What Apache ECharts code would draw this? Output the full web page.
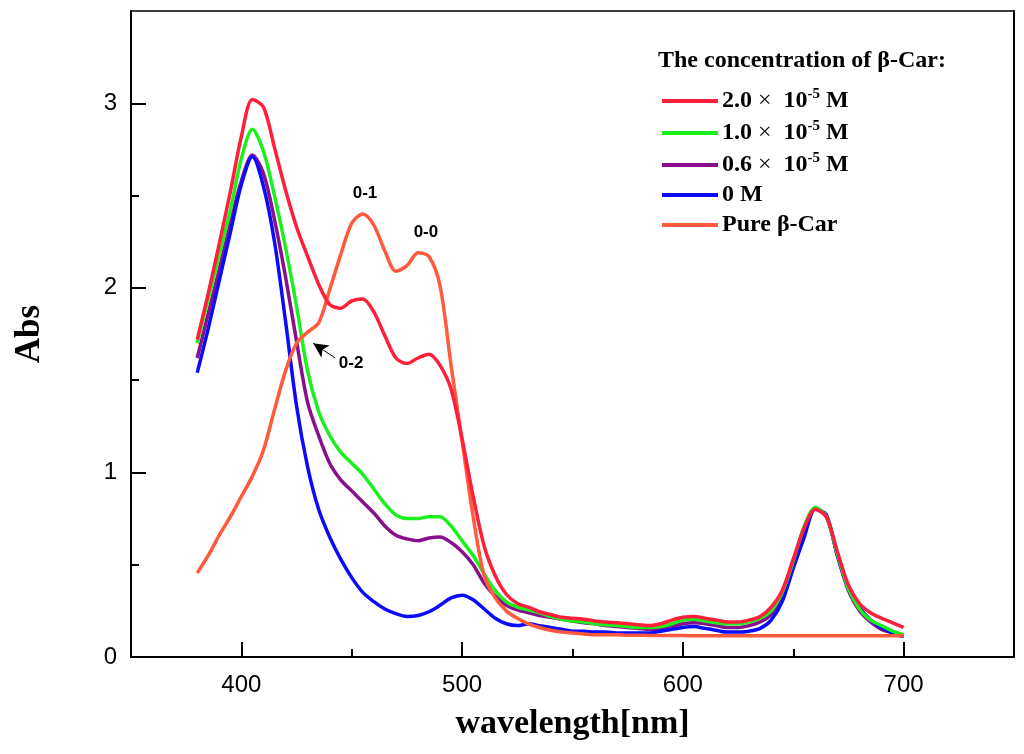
<!DOCTYPE html>
<html>
<head>
<meta charset="utf-8">
<script src="https://cdn.jsdelivr.net/npm/echarts@6/dist/echarts.min.js"></script>
<style>
  html, body { margin: 0; padding: 0; background: #fff; }
  #chart { width: 1024px; height: 754px; }
</style>
</head>
<body>
<div id="chart"></div>
<script>
// wavelength grid (nm)
const wavelength = [380, 385, 390, 395, 400, 405, 410, 415, 420, 425, 430, 435, 440, 445, 450, 455,
  460, 465, 470, 475, 480, 485, 490, 495, 500, 505, 510, 515, 520, 525, 530, 535, 540, 545, 550,
  555, 560, 565, 570, 575, 580, 585, 590, 595, 600, 605, 610, 615, 620, 625, 630, 635, 640, 645,
  650, 655, 660, 665, 670, 675, 680, 685, 690, 695, 700];

// 2.0 x 10^-5 M
const abs20 = [1.72, 1.97, 2.24, 2.52, 2.82, 3.02, 2.98, 2.76, 2.53, 2.33, 2.17, 2.02, 1.91, 1.89,
  1.93, 1.94, 1.87, 1.74, 1.62, 1.59, 1.62, 1.64, 1.58, 1.45, 1.18, 0.87, 0.60, 0.44, 0.34, 0.29,
  0.27, 0.245, 0.23, 0.215, 0.21, 0.205, 0.195, 0.19, 0.185, 0.18, 0.175, 0.17, 0.18, 0.20, 0.215,
  0.22, 0.21, 0.20, 0.19, 0.19, 0.20, 0.22, 0.27, 0.36, 0.53, 0.70, 0.80, 0.76, 0.57, 0.39, 0.29,
  0.24, 0.21, 0.185, 0.16];

// 1.0 x 10^-5 M
const abs10 = [1.70, 1.94, 2.18, 2.42, 2.70, 2.86, 2.74, 2.50, 2.22, 1.90, 1.55, 1.33, 1.20, 1.11,
  1.05, 0.99, 0.91, 0.83, 0.77, 0.75, 0.75, 0.76, 0.76, 0.71, 0.63, 0.55, 0.45, 0.36, 0.30, 0.27,
  0.255, 0.24, 0.22, 0.205, 0.195, 0.19, 0.18, 0.175, 0.17, 0.165, 0.16, 0.16, 0.165, 0.18, 0.20,
  0.205, 0.195, 0.185, 0.18, 0.18, 0.19, 0.21, 0.25, 0.35, 0.52, 0.71, 0.81, 0.76, 0.56, 0.37,
  0.26, 0.20, 0.17, 0.14, 0.12];

// 0.6 x 10^-5 M
const abs06 = [1.62, 1.86, 2.10, 2.35, 2.58, 2.72, 2.62, 2.37, 2.06, 1.71, 1.38, 1.20, 1.05, 0.96,
  0.90, 0.84, 0.78, 0.71, 0.66, 0.64, 0.63, 0.645, 0.65, 0.62, 0.57, 0.50, 0.40, 0.33, 0.28, 0.255,
  0.24, 0.225, 0.215, 0.205, 0.195, 0.185, 0.18, 0.17, 0.165, 0.16, 0.155, 0.15, 0.155, 0.165, 0.18,
  0.185, 0.18, 0.17, 0.16, 0.16, 0.17, 0.19, 0.23, 0.33, 0.50, 0.70, 0.80, 0.76, 0.55, 0.36, 0.25,
  0.19, 0.15, 0.13, 0.11];

// 0 M
const abs00 = [1.54, 1.78, 2.04, 2.30, 2.56, 2.71, 2.55, 2.25, 1.82, 1.36, 1.03, 0.80, 0.65, 0.53,
  0.43, 0.35, 0.30, 0.26, 0.235, 0.22, 0.225, 0.245, 0.28, 0.32, 0.335, 0.31, 0.26, 0.21, 0.18,
  0.17, 0.18, 0.17, 0.16, 0.15, 0.14, 0.14, 0.135, 0.135, 0.13, 0.13, 0.13, 0.13, 0.14, 0.15, 0.16,
  0.165, 0.155, 0.145, 0.135, 0.135, 0.14, 0.155, 0.20, 0.30, 0.48, 0.65, 0.80, 0.77, 0.55, 0.37,
  0.27, 0.20, 0.16, 0.13, 0.11];

// pure beta-carotene
const absPure = [0.455, 0.55, 0.66, 0.76, 0.87, 0.98, 1.12, 1.34, 1.55, 1.70, 1.76, 1.81, 1.99,
  2.18, 2.35, 2.40, 2.34, 2.20, 2.09, 2.12, 2.19, 2.17, 2.01, 1.58, 1.17, 0.76, 0.44, 0.32, 0.25,
  0.21, 0.18, 0.16, 0.145, 0.135, 0.13, 0.125, 0.12, 0.12, 0.12, 0.118, 0.118, 0.117, 0.117, 0.116,
  0.116, 0.115, 0.115, 0.115, 0.115, 0.115, 0.115, 0.115, 0.115, 0.115, 0.115, 0.115, 0.115,
  0.115, 0.115, 0.115, 0.115, 0.115, 0.115, 0.115, 0.115];

const seriesNames = ['2.0', '1.0', '0.6', '0 M', 'Pure β-Car'];
const xTicks = [400, 500, 600, 700];
const xMinorTicks = [450, 550, 650];
const yTicks = [0, 1, 2, 3];
const yMinorTicks = [0.5, 1.5, 2.5];

// vibronic band labels [text, wavelength, abs]
const bandLabels = [['0-1', 456, 2.51], ['0-0', 483.6, 2.30], ['0-2', 449.7, 1.59]];
const arrowFrom = [442.5, 1.62];
const arrowTo = [432.5, 1.70];

const pair = ys => wavelength.map((w, i) => [w, ys[i]]);

const chart = echarts.init(document.getElementById('chart'));

const line = (name, data, color, z) => ({
  name: name,
  type: 'line',
  data: pair(data),
  smooth: 0.3,
  symbol: 'none',
  showSymbol: false,
  z: z,
  lineStyle: { color: color, width: 3.5 },
  itemStyle: { color: color },
});

const pureSeries = line(seriesNames[4], absPure, '#ff5a3c', 3);
pureSeries.markPoint = {
  symbol: 'circle',
  symbolSize: 0,
  label: {
    show: true, formatter: '{b}', position: 'inside',
    color: '#000', fontFamily: 'Liberation Sans', fontWeight: 'bold', fontSize: 17,
  },
  data: bandLabels.map(b => ({ name: b[0], coord: [b[1], b[2]] })),
};
pureSeries.markLine = {
  silent: true,
  symbol: ['none', 'arrow'],
  symbolSize: [11, 15],
  label: { show: false },
  lineStyle: { color: '#000', width: 1, type: 'solid' },
  data: [[{ coord: arrowFrom }, { coord: arrowTo }]],
};

const legendText = {
  '2.0': '{a|2.0 }{x|×}{a|  10}{s|-5}{a| M}',
  '1.0': '{a|1.0 }{x|×}{a|  10}{s|-5}{a| M}',
  '0.6': '{a|0.6 }{x|×}{a|  10}{s|-5}{a| M}',
};

chart.setOption({
  backgroundColor: '#fff',
  animation: false,
  title: {
    text: 'The concentration of β-Car:',
    left: 653,
    top: 44,
    textStyle: { fontFamily: 'Liberation Serif', fontWeight: 'bold', fontSize: 24, color: '#000' },
  },
  legend: {
    orient: 'vertical',
    left: 657,
    top: 82,
    itemWidth: 56,
    itemHeight: 4,
    itemGap: 6,
    icon: 'rect',
    data: seriesNames,
    formatter: n => legendText[n] || ('{a|' + n + '}'),
    textStyle: {
      padding: [0, 0, 0, -1],
      rich: {
        a: { fontFamily: 'Liberation Serif', fontWeight: 'bold', fontSize: 24, color: '#000', lineHeight: 28 },
        x: { fontFamily: 'Liberation Serif', fontSize: 24, color: '#000', lineHeight: 28 },
        s: { fontFamily: 'Liberation Serif', fontWeight: 'bold', fontSize: 15, color: '#000', lineHeight: 15, verticalAlign: 'top' },
      },
    },
  },
  grid: { left: 131, top: 11, right: 10, bottom: 97 },
  xAxis: [
    {
      type: 'value', min: 350, max: 750, position: 'bottom',
      name: 'wavelength[nm]', nameLocation: 'middle', nameGap: 50,
      nameTextStyle: { fontFamily: 'Liberation Serif', fontWeight: 'bold', fontSize: 34, color: '#000' },
      axisLine: { onZero: false, lineStyle: { color: '#000', width: 2 } },
      axisTick: { inside: true, length: 15, customValues: xTicks, lineStyle: { color: '#000', width: 2 } },
      axisLabel: { customValues: xTicks, margin: 16, fontFamily: 'Liberation Sans', fontSize: 24, color: '#000' },
      splitLine: { show: false },
    },
    {
      type: 'value', min: 350, max: 750, position: 'bottom',
      axisLine: { show: false },
      axisTick: { inside: true, length: 8, customValues: xMinorTicks, lineStyle: { color: '#000', width: 2 } },
      axisLabel: { show: false },
      splitLine: { show: false },
    },
    {
      type: 'value', min: 350, max: 750, position: 'top',
      axisLine: { onZero: false, lineStyle: { color: '#000', width: 1.5 } },
      axisTick: { show: false },
      axisLabel: { show: false },
      splitLine: { show: false },
    },
  ],
  yAxis: [
    {
      type: 'value', min: 0, max: 3.5, position: 'left',
      name: 'Abs', nameLocation: 'middle', nameGap: 84, nameRotate: 90,
      nameTextStyle: { fontFamily: 'Liberation Serif', fontWeight: 'bold', fontSize: 35, color: '#000' },
      axisLine: { onZero: false, lineStyle: { color: '#000', width: 2 } },
      axisTick: { inside: true, length: 15, customValues: yTicks, lineStyle: { color: '#000', width: 2 } },
      axisLabel: { customValues: yTicks, margin: 14, fontFamily: 'Liberation Sans', fontSize: 24, color: '#000' },
      splitLine: { show: false },
    },
    {
      type: 'value', min: 0, max: 3.5, position: 'left',
      axisLine: { show: false },
      axisTick: { inside: true, length: 8, customValues: yMinorTicks, lineStyle: { color: '#000', width: 2 } },
      axisLabel: { show: false },
      splitLine: { show: false },
    },
    {
      type: 'value', min: 0, max: 3.5, position: 'right',
      axisLine: { show: true, onZero: false, lineStyle: { color: '#000', width: 2 } },
      axisTick: { show: false },
      axisLabel: { show: false },
      splitLine: { show: false },
    },
  ],
  series: [
    line(seriesNames[2], abs06, '#88108c', 2),
    line(seriesNames[3], abs00, '#0a0aff', 2),
    line(seriesNames[1], abs10, '#1cf01c', 2),
    pureSeries,
    line(seriesNames[0], abs20, '#ff1f3a', 4),
  ],
});
</script>
</body>
</html>
